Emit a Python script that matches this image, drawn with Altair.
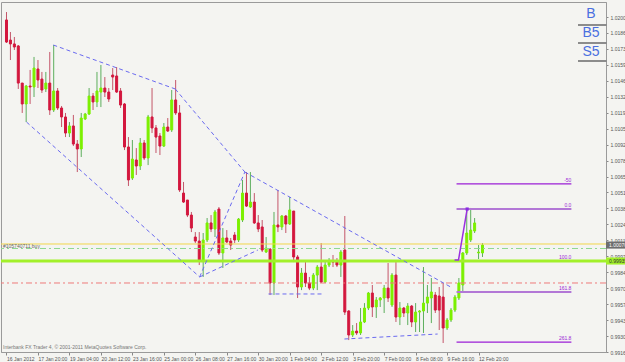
import altair as alt
import pandas as pd

# ---------------- data (H4 candles) ----------------
opens = [
    1.01975, 1.01805, 1.01772, 1.01755, 1.01441, 1.01264, 1.01416, 1.01408, 1.01560, 1.01475,
    1.01391, 1.01441, 1.01213, 1.01374, 1.01230, 1.01154, 1.01018, 1.01078, 1.00925, 1.00883,
    1.01137, 1.01179, 1.01331, 1.01281, 1.01365, 1.01399, 1.01365, 1.01509, 1.01501, 1.01374,
    1.01264, 1.00900, 1.00637, 1.00790, 1.00739, 1.00934, 1.00807, 1.01154, 1.01061, 1.00993,
    1.00908, 1.01069, 1.01044, 1.01298, 1.01188, 1.00510, 1.00451, 1.00324, 1.00138, 1.00104,
    0.99943, 1.00113, 1.00257, 1.00206, 1.00375, 1.00003, 1.00130, 1.00104, 1.00155, 1.00113,
    1.00282, 1.00510, 1.00392, 1.00434, 1.00257, 1.00223, 1.00011, 1.00036, 0.99749, 1.00240,
    1.00223, 1.00316, 1.00248, 1.00358, 0.99969, 0.99715, 0.99833, 0.99749, 0.99706, 0.99816,
    0.99884, 0.99757, 0.99901, 0.99935, 0.99935, 0.99901, 1.00028, 0.99512, 0.99309, 0.99342,
    0.99326, 0.99419, 0.99537, 0.99664, 0.99546, 0.99605, 0.99622, 0.99706, 0.99563, 0.99816,
    0.99461, 0.99537, 0.99495, 0.99554, 0.99419, 0.99503, 0.99512, 0.99579, 0.99622, 0.99647,
    0.99639, 0.99630, 0.99368, 0.99436, 0.99520, 0.99622, 0.99732, 1.00003, 1.00113, 1.00189,
    1.00003, 1.00003,
]
highs = [
    1.02042, 1.01873, 1.01831, 1.01763, 1.01441, 1.01425, 1.01552, 1.01662, 1.01636, 1.01535,
    1.01535, 1.01704, 1.01763, 1.01399, 1.01247, 1.01188, 1.01111, 1.01171, 1.00959, 1.01188,
    1.01188, 1.01399, 1.01357, 1.01535, 1.01594, 1.01492, 1.01399, 1.01568, 1.01577, 1.01399,
    1.01272, 1.00984, 1.00959, 1.00891, 1.00976, 1.00959, 1.01171, 1.01399, 1.01086, 1.01018,
    1.01103, 1.01145, 1.01382, 1.01467, 1.01255, 1.00604, 1.00451, 1.00350, 1.00180, 1.00180,
    1.00172, 1.00299, 1.00324, 1.00367, 1.00392, 1.00214, 1.00197, 1.00130, 1.00180, 1.00299,
    1.00621, 1.00688, 1.00688, 1.00510, 1.00324, 1.00282, 1.00138, 1.00045, 1.00350, 1.00536,
    1.00324, 1.00324, 1.00477, 1.00358, 0.99986, 0.99876, 0.99926, 0.99800, 0.99833, 0.99901,
    1.00087, 0.99943, 0.99960, 0.99986, 0.99960, 1.00028, 1.00316, 0.99520, 0.99393, 0.99410,
    0.99537, 0.99579, 0.99673, 0.99732, 0.99630, 0.99630, 0.99732, 0.99918, 0.99833, 0.99926,
    0.99588, 0.99546, 0.99579, 0.99563, 0.99579, 0.99520, 0.99884, 0.99732, 0.99791, 0.99673,
    0.99715, 0.99749, 0.99453, 0.99537, 0.99647, 0.99791, 1.00011, 1.00367, 1.00384, 1.00299,
    1.00070, 1.00087,
]
lows = [
    1.01780, 1.01636, 1.01721, 1.01391, 1.01188, 1.01111, 1.01264, 1.01323, 1.01399, 1.01357,
    1.01365, 1.01171, 1.01196, 1.01213, 1.01069, 1.00984, 1.00984, 1.00908, 1.00688, 1.00815,
    1.01128, 1.01171, 1.01213, 1.01238, 1.01238, 1.01323, 1.01281, 1.01382, 1.01357, 1.01230,
    1.00874, 1.00570, 1.00621, 1.00663, 1.00705, 1.00790, 1.00747, 1.01018, 1.00849, 1.00832,
    1.00900, 1.01027, 1.01027, 1.01171, 1.00519, 1.00426, 1.00307, 1.00180, 1.00087, 0.99901,
    0.99800, 1.00096, 1.00180, 1.00138, 0.99986, 0.99876, 1.00087, 1.00028, 1.00087, 1.00096,
    1.00265, 1.00392, 1.00384, 1.00248, 1.00180, 1.00011, 1.00003, 0.99647, 0.99647, 1.00180,
    1.00197, 1.00172, 1.00240, 0.99926, 0.99622, 0.99689, 0.99715, 0.99689, 0.99689, 0.99689,
    0.99749, 0.99749, 0.99884, 0.99884, 0.99884, 0.99800, 0.99478, 0.99266, 0.99292, 0.99309,
    0.99309, 0.99410, 0.99520, 0.99461, 0.99453, 0.99546, 0.99495, 0.99588, 0.99546, 0.99419,
    0.99393, 0.99461, 0.99393, 0.99376, 0.99334, 0.99334, 0.99326, 0.99495, 0.99410, 0.99495,
    0.99351, 0.99241, 0.99351, 0.99419, 0.99503, 0.99605, 0.99673, 0.99986, 1.00096, 1.00172,
    0.99952, 0.99969,
]
closes = [
    1.01788, 1.01772, 1.01746, 1.01441, 1.01264, 1.01416, 1.01408, 1.01568, 1.01467, 1.01382,
    1.01441, 1.01213, 1.01374, 1.01230, 1.01154, 1.01018, 1.01078, 1.00925, 1.00883, 1.01145,
    1.01179, 1.01331, 1.01281, 1.01374, 1.01399, 1.01365, 1.01306, 1.01492, 1.01365, 1.01255,
    1.00900, 1.00621, 1.00798, 1.00739, 1.00934, 1.00807, 1.01154, 1.01061, 1.00984, 1.00908,
    1.01069, 1.01035, 1.01298, 1.01188, 1.00536, 1.00434, 1.00324, 1.00214, 1.00104, 0.99943,
    1.00113, 1.00257, 1.00206, 1.00350, 1.00003, 1.00130, 1.00096, 1.00070, 1.00113, 1.00290,
    1.00510, 1.00400, 1.00434, 1.00257, 1.00206, 1.00028, 1.00045, 0.99749, 1.00240, 1.00223,
    1.00316, 1.00248, 1.00367, 0.99969, 0.99715, 0.99833, 0.99749, 0.99706, 0.99816, 0.99884,
    0.99757, 0.99901, 0.99935, 0.99926, 0.99901, 1.00011, 0.99503, 0.99309, 0.99342, 0.99326,
    0.99419, 0.99537, 0.99664, 0.99546, 0.99605, 0.99622, 0.99706, 0.99622, 0.99816, 0.99461,
    0.99537, 0.99495, 0.99554, 0.99419, 0.99503, 0.99512, 0.99579, 0.99630, 0.99673, 0.99520,
    0.99520, 0.99368, 0.99436, 0.99520, 0.99630, 0.99749, 1.00003, 1.00172, 1.00197, 1.00257,
    1.00011, 1.00070,
]

x_labels = ["16 Jan 2012", "17 Jan 20:00", "19 Jan 04:00", "20 Jan 12:00", "23 Jan 16:00",
            "25 Jan 00:00", "26 Jan 08:00", "27 Jan 16:00", "30 Jan 20:00", "1 Feb 04:00",
            "2 Feb 12:00", "3 Feb 20:00", "7 Feb 00:00", "8 Feb 08:00", "9 Feb 16:00",
            "12 Feb 20:00"]
x_label_bars = [0, 8, 16, 24, 32, 40, 48, 56, 64, 72, 80, 88, 96, 104, 112, 120]
y_ticks = [0.99165, 0.99300, 0.99435, 0.99570, 0.99705, 0.99840, 0.99975, 1.00110,
           1.00245, 1.00380, 1.00515, 1.00650, 1.00785, 1.00920, 1.01055, 1.01190,
           1.01325, 1.01460, 1.01595, 1.01730, 1.01865, 1.02000]

# horizontal levels (order line, stop/target lines)
level_prices = [1.00079, 1.00041, 0.99935, 0.99749]
level_colors = ["#F2D64B", "#8FD88F", "#A2F02A", "#EE7A7A"]
level_widths = [1, 1, 3, 1]
level_dash = [[1, 0], [6, 3, 2, 3], [1, 0], [6, 3, 2, 3]]

# fibonacci levels
fib_names = ["-50", "0.0", "100.0", "161.8", "261.8"]
fib_prices = [1.00587, 1.00375, 0.99935, 0.99673, 0.99249]
fib_start, fib_end = 114.4, 143.6

# blue dashed pattern lines: (bar, price) -> (bar, price)
seg_x1 = [11.9, 42.9, 60.6, 5.1, 49.1, 49.1, 66.6, 85.9]
seg_y1 = [1.01763, 1.01391, 1.00688, 1.01111, 0.99800, 0.99800, 0.99656, 0.99275]
seg_x2 = [42.9, 60.6, 113.4, 49.1, 60.6, 63.9, 80.4, 109.6]
seg_y2 = [1.01391, 1.00688, 0.99706, 0.99800, 1.00688, 1.00028, 0.99656, 0.99317]

# fibo anchor trend line
trend_x = [113.9, 114.9, 117.1]
trend_y = [0.99943, 0.99943, 1.00375]

bid_price = 1.00070
FONT = "Liberation Sans"
BG = "#F4F4F1"

# ---------------- chart ----------------
n = len(opens)
bars = pd.DataFrame({"i": list(range(n)), "open": opens, "high": highs,
                     "low": lows, "close": closes})
bars["dir"] = ["up" if c >= o else "down" for o, c in zip(opens, closes)]

XS = alt.Scale(domain=[-0.125, 151.125], nice=False, zero=False)
YS = alt.Scale(domain=[0.99165, 1.02127], nice=False, zero=False)
label_expr = "[" + ",".join("'%s'" % s for s in x_labels) + "][round(datum.value / 8)]"
XAX = alt.Axis(values=x_label_bars, labelExpr=label_expr, labelAlign="left",
               labelBaseline="top", labelFontSize=5, labelFont=FONT, labelColor="#555555",
               tickSize=3, tickColor="#888888", domainColor="#9A9A9A", grid=False,
               labelPadding=1, labelFlush=False, labelOverlap=False, title=None)
YAX = alt.Axis(orient="right", values=y_ticks, format=".5f", labelFontSize=5, labelFont=FONT,
               labelColor="#555555", tickSize=2, tickColor="#888888", domainColor="#9A9A9A",
               grid=False, labelPadding=2, labelOverlap=False, title=None)


def X(f):
    return alt.X(f + ":Q", scale=XS, axis=XAX, title=None)


def Y(f):
    return alt.Y(f + ":Q", scale=YS, axis=YAX, title=None)


dir_wick = alt.Color("dir:N", scale=alt.Scale(domain=["up", "down"],
                     range=["#5DAE5D", "#C4566A"]), legend=None)
dir_body = alt.Color("dir:N", scale=alt.Scale(domain=["up", "down"],
                     range=["#7CF000", "#D3173E"]), legend=None)

base = alt.Chart(bars)
wicks = base.mark_rule(strokeWidth=1).encode(x=X("i"), y=Y("low"), y2=alt.Y2("high"),
                                              color=dir_wick)
bodies = base.mark_bar(size=2, strokeWidth=1).encode(
    x=X("i"), y=Y("open"), y2=alt.Y2("close"), fill=dir_body, stroke=dir_body)

layers = [wicks, bodies]

for p, c, w, d in zip(level_prices, level_colors, level_widths, level_dash):
    layers.append(alt.Chart(pd.DataFrame({"p": [p]})).mark_rule(
        color=c, strokeWidth=w, strokeDash=d).encode(y=Y("p")))

segs = pd.DataFrame({"x1": seg_x1, "y1": seg_y1, "x2": seg_x2, "y2": seg_y2})
layers.append(alt.Chart(segs).mark_rule(color="#6A6AF0", strokeWidth=1,
                                        strokeDash=[4, 3]).encode(
    x=X("x1"), y=Y("y1"), x2=alt.X2("x2"), y2=alt.Y2("y2")))

fib = pd.DataFrame({"name": fib_names, "p": fib_prices,
                    "a": [fib_start] * len(fib_names), "b": [fib_end] * len(fib_names)})
fib_main = fib[fib["name"].isin(["-50", "261.8"])]
fib_soft = fib[fib["name"].isin(["0.0", "161.8"])]
layers.append(alt.Chart(fib_main).mark_rule(color="#9B1FD6", strokeWidth=1.2).encode(
    x=X("a"), x2=alt.X2("b"), y=Y("p")))
layers.append(alt.Chart(fib_soft).mark_rule(color="#B277D6", strokeWidth=2).encode(
    x=X("a"), x2=alt.X2("b"), y=Y("p")))
layers.append(alt.Chart(fib).mark_text(align="right", baseline="bottom", fontSize=5,
                                       font=FONT, color="#9B1FD6", dy=-1).encode(
    x=X("b"), y=Y("p"), text="name:N"))

trend = pd.DataFrame({"t": trend_x, "p": trend_y, "o": [0, 1, 2]})
layers.append(alt.Chart(trend).mark_line(color="#9B30E0", strokeWidth=1.5).encode(
    x=X("t"), y=Y("p"), order="o:Q"))
layers.append(alt.Chart(trend.iloc[[2]]).mark_square(color="#8A2BE2", size=10, opacity=1).encode(
    x=X("t"), y=Y("p")))

# order label
layers.append(alt.Chart(pd.DataFrame({"p": [level_prices[0]], "t": ["#105740711 buy"]})).mark_text(
    align="left", baseline="middle", fontSize=5, font=FONT, color="#666666", dy=2).encode(
    x=alt.value(2), y=Y("p"), text="t:N"))

# watermark
layers.append(alt.Chart(pd.DataFrame({"t": ["Interbank FX Trader 4, \u00a9 2001-2011 MetaQuotes Software Corp."]})
                        ).mark_text(align="left", baseline="bottom", fontSize=5, font=FONT,
                                    color="#777777").encode(
    x=alt.value(2), y=alt.value(348), text="t:N"))

# B / B5 / S5 buttons
btn = pd.DataFrame({"t": ["B", "B5", "S5"], "y": [12, 31, 50], "u": [23, 41, 59]})
layers.append(alt.Chart(btn).mark_text(align="center", baseline="middle", fontSize=14,
                                       font=FONT, color="#4A6FE0").encode(
    x=alt.value(590), y=alt.Y("y:Q", scale=None), text="t:N"))
layers.append(alt.Chart(btn).mark_rule(color="#8C8C8C", strokeWidth=2).encode(
    x=alt.value(577), x2=alt.value(606), y=alt.Y("u:Q", scale=None)))

# right axis price boxes
boxes = pd.DataFrame({"lo": [bid_price - 0.00030, level_prices[2] - 0.00030],
                      "hi": [bid_price + 0.00030, level_prices[2] + 0.00030],
                      "p": [bid_price, level_prices[2]],
                      "t": ["%.5f" % bid_price, "%.5f" % level_prices[2]],
                      "k": ["bid", "lvl"]})
layers.append(alt.Chart(boxes).mark_rect().encode(
    x=alt.value(605), x2=alt.value(630), y=Y("lo"), y2=alt.Y2("hi"),
    color=alt.Color("k:N", scale=alt.Scale(domain=["bid", "lvl"], range=["#6E6E6E", "#A2F02A"]),
                    legend=None)))
layers.append(alt.Chart(boxes).mark_text(align="left", baseline="middle", fontSize=5,
                                         font=FONT).encode(
    x=alt.value(608), y=Y("p"), text="t:N",
    color=alt.Color("k:N", scale=alt.Scale(domain=["bid", "lvl"], range=["#FFFFFF", "#333333"]),
                    legend=None)))

chart = alt.layer(*layers).resolve_scale(color="independent").properties(
    width=605, height=350,
    padding={"left": 1, "top": 2, "right": 19, "bottom": 10},
    autosize=alt.AutoSizeParams(type="none"),
    background=BG,
).configure_view(stroke="#9A9A9A", fill=BG)

chart.save("out.html", embed_options={"renderer": "svg", "actions": False})
